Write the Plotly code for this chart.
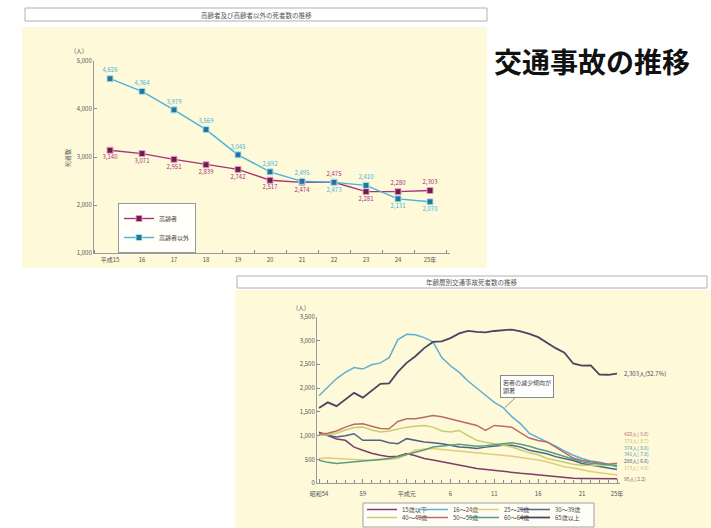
import plotly.graph_objects as go

W, H = 711, 528
def px(x): return x / W
def py(y): return 1 - y / H

FONT = "Noto Sans CJK JP"

# ---------------- top chart data ----------------
top_x_labels = ["平成15", "16", "17", "18", "19", "20", "21", "22", "23", "24", "25年"]
elderly = [3140, 3071, 2951, 2839, 2742, 2517, 2474, 2475, 2281, 2280, 2303]
non_elderly = [4626, 4364, 3979, 3569, 3045, 2692, 2495, 2473, 2410, 2131, 2070]
elderly_textpos = ["bottom center"] * 7 + ["top center", "bottom center", "top center", "top center"]
non_textpos = ["top center"] * 7 + ["bottom center", "top center", "bottom center", "bottom center"]
top_y_ticks = [1000, 2000, 3000, 4000, 5000]

# ---------------- bottom chart data ----------------
years = list(range(1979, 2014))
bottom_tick_years = [1979, 1984, 1989, 1994, 1999, 2004, 2009, 2013]
bottom_tick_labels = ["昭和54", "59", "平成元", "6", "11", "16", "21", "25年"]
bottom_y_ticks = [0, 500, 1000, 1500, 2000, 2500, 3000, 3500]

age_15_under = [1076, 1000, 930, 903, 760, 694, 630, 590, 556, 570, 625, 580, 521, 490, 451, 420, 382,
                350, 313, 290, 270, 243, 230, 210, 195, 174, 160, 140, 120, 104, 100, 95, 90, 85, 95]
age_16_24 = [1840, 2030, 2200, 2330, 2430, 2400, 2490, 2530, 2640, 3020, 3130, 3120, 3060, 2970, 2640,
             2470, 2330, 2150, 1990, 1850, 1700, 1590, 1400, 1250, 1050, 960, 880, 780, 680, 590, 520,
             470, 440, 400, 341]
age_25_29 = [521, 530, 521, 510, 500, 486, 480, 490, 510, 521, 600, 694, 720, 729, 710, 694, 680, 660,
             650, 625, 610, 590, 570, 540, 521, 490, 451, 400, 347, 320, 278, 250, 220, 200, 173]
age_30_39 = [1042, 1000, 972, 1000, 1042, 903, 910, 903, 850, 833, 938, 900, 868, 850, 833, 800, 764,
             750, 729, 760, 780, 799, 799, 760, 694, 660, 620, 560, 521, 480, 417, 380, 347, 320, 288]
age_40_49 = [1007, 1020, 1050, 1120, 1170, 1180, 1120, 1076, 1100, 1146, 1180, 1200, 1215, 1180, 1100,
             1076, 1110, 1000, 903, 860, 833, 800, 764, 700, 640, 600, 520, 486, 440, 400, 380, 370,
             375, 380, 379]
age_50_59 = [1040, 1050, 1100, 1180, 1240, 1250, 1200, 1150, 1146, 1300, 1354, 1354, 1390, 1423, 1400,
             1354, 1300, 1250, 1215, 1110, 1215, 1200, 1180, 1060, 950, 900, 870, 760, 650, 530, 480,
             450, 430, 400, 420]
age_60_64 = [486, 440, 417, 430, 451, 470, 486, 500, 520, 556, 600, 660, 700, 764, 780, 800, 820, 800,
             780, 790, 810, 830, 850, 820, 780, 720, 680, 620, 560, 500, 450, 420, 400, 380, 374]
age_65_over = [1583, 1700, 1620, 1770, 1900, 1800, 1950, 2090, 2100, 2340, 2530, 2670, 2840, 2970, 2980,
               3050, 3150, 3200, 3180, 3170, 3200, 3210, 3230, 3190, 3140, 3071, 2951, 2839, 2742, 2517,
               2474, 2475, 2281, 2280, 2303]

end_labels = ["420人( 9.6)", "379人( 8.7)", "374人( 8.6)", "341人( 7.8)", "288人( 6.6)", "173人( 4.0)", "95人( 2.2)"]
label_65 = "2,303人(52.7%)"

# ---------------- styles ----------------
C_ELD, C_ELD_M = "#a8337a", "#6e1c4c"
C_NON, C_NON_M = "#48b4dc", "#27739c"
age_series = [
    ("15歳以下", age_15_under, "#7c3e68", "legend2"),
    ("16～24歳", age_16_24, "#5fb0d4", "legend2"),
    ("25～29歳", age_25_29, "#e2cc78", "legend2"),
    ("30～39歳", age_30_39, "#4e6482", "legend2"),
    ("40～49歳", age_40_49, "#c8cc70", "legend3"),
    ("50～59歳", age_50_59, "#bb6a6a", "legend3"),
    ("60～64歳", age_60_64, "#5a9e80", "legend3"),
    ("65歳以上", age_65_over, "#4a4560", "legend3"),
]
end_label_colors = ["#c07070", "#c8c070", "#4aa0a0", "#5a90c8", "#556080", "#d8c078", "#a05858"]
end_label_y = [1040, 900, 760, 620, 480, 340, 95]

fig = go.Figure()

# top chart traces
fig.add_trace(go.Scatter(
    x=list(range(len(elderly))), y=elderly, name="高齢者",
    mode="lines+markers+text", text=[f"{v:,}" for v in elderly], textposition=elderly_textpos,
    textfont=dict(size=6, color=C_ELD, family=FONT),
    line=dict(color=C_ELD, width=1.4),
    marker=dict(symbol="square", size=6, color=C_ELD_M, line=dict(color="#e89cc8", width=1)),
    xaxis="x", yaxis="y", legend="legend", cliponaxis=False))
fig.add_trace(go.Scatter(
    x=list(range(len(non_elderly))), y=non_elderly, name="高齢者以外",
    mode="lines+markers+text", text=[f"{v:,}" for v in non_elderly], textposition=non_textpos,
    textfont=dict(size=6, color=C_NON, family=FONT),
    line=dict(color=C_NON, width=1.4),
    marker=dict(symbol="square", size=6, color=C_NON_M, line=dict(color="#a8e4f4", width=1)),
    xaxis="x", yaxis="y", legend="legend", cliponaxis=False))

# bottom chart traces
row_last = {"30～39歳", "65歳以上"}
for name, vals, col, lg in age_series:
    fig.add_trace(go.Scatter(
        x=years, y=vals, name=name, mode="lines",
        line=dict(color=col, width=1.5 if name != "65歳以上" else 1.8),
        legendwidth=34 if name in row_last else 6,
        xaxis="x2", yaxis="y2", legend=lg, cliponaxis=False))

shapes = [
    # top chart panel
    dict(type="rect", xref="paper", yref="paper", x0=px(22), x1=px(487), y0=py(268), y1=py(27),
         fillcolor="#fdf9d9", line=dict(width=0), layer="below"),
    dict(type="rect", xref="paper", yref="paper", x0=px(25), x1=px(487), y0=py(21), y1=py(8),
         fillcolor="white", line=dict(color="#b0b0b0", width=1), layer="below"),
    # bottom chart panel
    dict(type="rect", xref="paper", yref="paper", x0=px(235), x1=px(711), y0=py(528), y1=py(290),
         fillcolor="#fdf9d9", line=dict(width=0), layer="below"),
    dict(type="rect", xref="paper", yref="paper", x0=px(237), x1=px(707), y0=py(288), y1=py(276),
         fillcolor="white", line=dict(color="#b0b0b0", width=1), layer="below"),
    # bottom legend frame
    dict(type="rect", xref="paper", yref="paper", x0=px(363), x1=px(594), y0=py(527), y1=py(503),
         fillcolor="#fffef6", line=dict(color="#a0a0a0", width=1), layer="below"),
]

def note(text, x, y, size=6, color="#555", **kw):
    return dict(text=text, x=px(x), y=py(y), xref="paper", yref="paper", xanchor="center",
                yanchor="middle", showarrow=False, font=dict(size=size, color=color, family=FONT), **kw)

annotations = [
    note("<b>交通事故の推移</b>", 592, 61, size=28, color="#111"),
    note("高齢者及び高齢者以外の死者数の推移", 256, 14.5, size=6.5),
    note("年齢層別交通事故死者数の推移", 472, 282, size=6.5),
    note("(人)", 79, 51),
    note("死者数", 67, 158, textangle=-90),
    note("(人)", 301, 307),
    dict(text=label_65, x=years[-1], y=age_65_over[-1], xref="x2", yref="y2", xanchor="left",
         xshift=5, showarrow=False, font=dict(size=6, color="#4a4560", family=FONT)),
    dict(text="若者の減少傾向が<br>顕著", x=2000.2, y=1590, xref="x2", yref="y2",
         ax=22, ay=-21, showarrow=True, arrowhead=0, arrowwidth=0.8, arrowcolor="#777",
         align="left", bgcolor="white", bordercolor="#888", borderwidth=1, borderpad=2,
         font=dict(size=6, color="#444", family=FONT)),
]
for txt, col, yv in zip(end_labels, end_label_colors, end_label_y):
    annotations.append(dict(text=txt, x=years[-1], y=yv, xref="x2", yref="y2", xanchor="left",
                            xshift=5, showarrow=False, font=dict(size=5, color=col, family=FONT)))

axis_common = dict(showgrid=False, zeroline=False, showline=True, linecolor="#9a9a9a", linewidth=1,
                   tickfont=dict(size=6, color="#555", family=FONT), fixedrange=True)

fig.update_layout(
    width=W, height=H, margin=dict(l=0, r=0, t=0, b=0, autoexpand=False),
    paper_bgcolor="white", plot_bgcolor="rgba(0,0,0,0)",
    font=dict(family=FONT, color="#444"),
    shapes=shapes, annotations=annotations,
    xaxis=dict(domain=[px(94), px(450)], range=[-0.5, 10.625], anchor="y",
               tickmode="array", tickvals=list(range(len(top_x_labels))), ticktext=top_x_labels,
               ticks="", minor=dict(tick0=0.5, dtick=1, ticks="inside", ticklen=3, tickcolor="#888"),
               **axis_common),
    yaxis=dict(domain=[py(253.3), py(60.7)], range=[1000, 5000], anchor="x",
               tickmode="array", tickvals=top_y_ticks, ticktext=[f"{v:,}" for v in top_y_ticks],
               ticks="inside", ticklen=3, tickcolor="#888", **axis_common),
    xaxis2=dict(domain=[px(317), px(620)], range=[1978.77, 2013.34], anchor="y2",
                tickmode="array", tickvals=bottom_tick_years, ticktext=bottom_tick_labels,
                ticks="inside", ticklen=4, tickcolor="#888", ticklabelstandoff=4,
                minor=dict(tick0=1979, dtick=1, ticks="inside", ticklen=3, tickcolor="#888"),
                **axis_common),
    yaxis2=dict(domain=[py(483.3), py(316.7)], range=[0, 3500], anchor="x2",
                tickmode="array", tickvals=bottom_y_ticks, ticktext=[f"{v:,}" for v in bottom_y_ticks],
                ticks="inside", ticklen=3, tickcolor="#888", **axis_common),
    legend=dict(x=px(118), y=py(203), xanchor="left", yanchor="top", orientation="v",
                bgcolor="#fffef8", bordercolor="#999", borderwidth=1,
                font=dict(size=6, color="#444", family=FONT), itemwidth=30, tracegroupgap=0),
    legend2=dict(x=px(362), y=py(524), xanchor="left", yanchor="bottom", orientation="h",
                 bgcolor="rgba(0,0,0,0)", borderwidth=0, entrywidth=6, entrywidthmode="pixels",
                 font=dict(size=6, color="#444", family=FONT), itemwidth=30),
    legend3=dict(x=px(362), y=py(532), xanchor="left", yanchor="bottom", orientation="h",
                 bgcolor="rgba(0,0,0,0)", borderwidth=0, entrywidth=6, entrywidthmode="pixels",
                 font=dict(size=6, color="#444", family=FONT), itemwidth=30),
)

fig.write_html("out.html")
